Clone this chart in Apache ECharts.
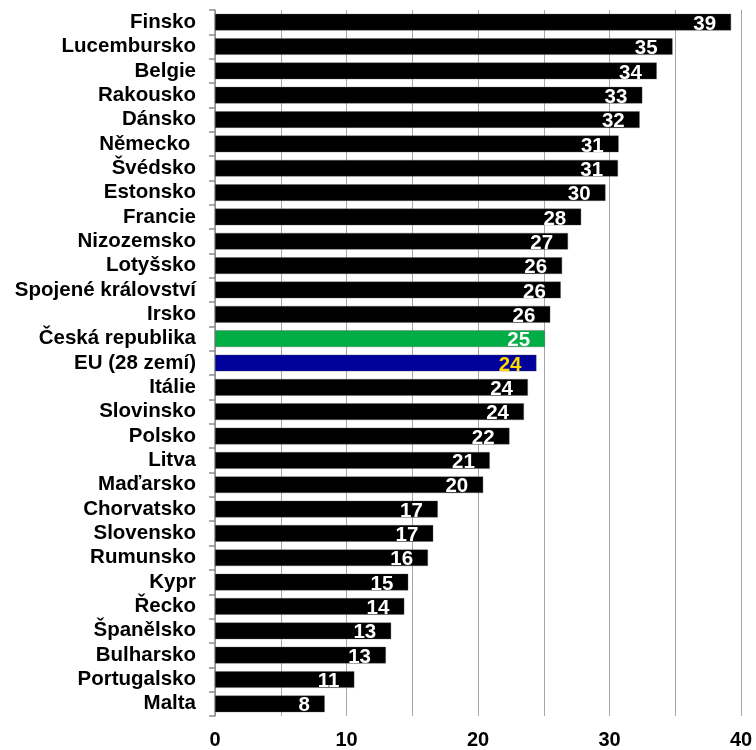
<!DOCTYPE html>
<html>
<head>
<meta charset="utf-8">
<style>
  html, body { margin: 0; padding: 0; background: #fff; }
  #chart { width: 756px; height: 750px; }
</style>
<script src="https://cdn.jsdelivr.net/npm/echarts@6/dist/echarts.min.js"></script>
</head>
<body>
<div id="chart"></div>
<script>
// Countries, top to bottom
const categories = [
  'Finsko', 'Lucembursko', 'Belgie', 'Rakousko', 'Dánsko', 'Německo ', 'Švédsko',
  'Estonsko', 'Francie', 'Nizozemsko', 'Lotyšsko', 'Spojené království', 'Irsko',
  'Česká republika', 'EU (28 zemí)', 'Itálie', 'Slovinsko', 'Polsko', 'Litva',
  'Maďarsko', 'Chorvatsko', 'Slovensko', 'Rumunsko', 'Kypr', 'Řecko',
  'Španělsko', 'Bulharsko', 'Portugalsko', 'Malta'
];

// Values (labels show them rounded to whole numbers)
const values = [
  39.25, 34.8, 33.6, 32.5, 32.3, 30.7, 30.65,
  29.7, 27.85, 26.85, 26.4, 26.3, 25.5,
  25.1, 24.45, 23.8, 23.5, 22.4, 20.9,
  20.4, 16.95, 16.6, 16.2, 14.7, 14.4,
  13.4, 13.0, 10.6, 8.35
];

// Axis range and tick labels
const axisMin = 0;
const axisMax = 40;
const gridStep = 5;
const tickLabels = ['0', '10', '20', '30', '40'];

// Highlighted bars
const barColors = { 'Česká republika': '#00AE45', 'EU (28 zemí)': '#00009A' };
const labelColors = { 'EU (28 zemí)': '#FFD800' };

const FONT = '"Liberation Sans", Arial, sans-serif';

const seriesData = categories.map((name, i) => ({
  value: values[i],
  itemStyle: { color: barColors[name] || '#000000' },
  label: { color: labelColors[name] || '#ffffff' }
}));

const chart = echarts.init(document.getElementById('chart'), null, { renderer: 'canvas' });
chart.setOption({
  animation: false,
  backgroundColor: '#ffffff',
  grid: { left: 215, right: 15, top: 10, bottom: 33, containLabel: false },
  xAxis: {
    type: 'value',
    min: axisMin,
    max: axisMax,
    interval: gridStep,
    axisLine: { show: false },
    axisTick: { show: false },
    splitLine: { show: true, lineStyle: { color: '#a6a6a6', width: 1 } },
    axisLabel: {
      margin: 14,
      fontFamily: FONT,
      fontWeight: 'bold',
      fontSize: 20,
      color: '#000',
      formatter: v => (tickLabels.includes(String(v)) ? String(v) : '')
    }
  },
  yAxis: {
    type: 'category',
    data: categories,
    inverse: true,
    axisLine: { show: true, lineStyle: { color: '#8c8c8c', width: 1.5 } },
    axisTick: { show: true, interval: 0, length: 6, lineStyle: { color: '#8c8c8c', width: 1.5 } },
    axisLabel: {
      interval: 0,
      margin: 19,
      fontFamily: FONT,
      fontWeight: 'bold',
      fontSize: 20.5,
      color: '#000'
    }
  },
  series: [{
    type: 'bar',
    data: seriesData,
    barCategoryGap: '31%',
    itemStyle: { borderColor: 'rgba(90,90,90,0.6)', borderWidth: 0.6 },
    label: {
      show: true,
      position: 'insideRight',
      distance: 15,
      offset: [0, 2],
      fontFamily: FONT,
      fontWeight: 'bold',
      fontSize: 20.5,
      formatter: p => String(Math.round(p.value))
    }
  }]
});
</script>
</body>
</html>
